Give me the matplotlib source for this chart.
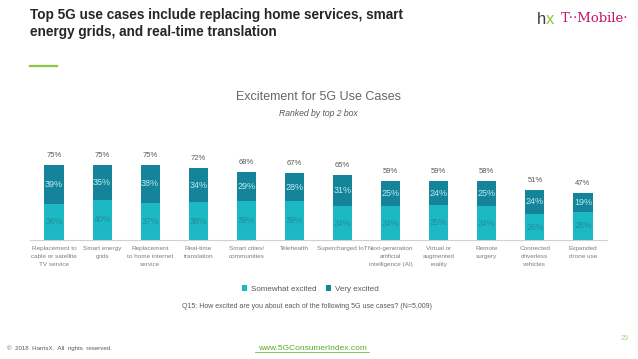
import matplotlib.pyplot as plt
import numpy as np

plt.rcParams['font.family'] = ['Liberation Sans', 'DejaVu Sans']

# data
categories = ['Replacement to\ncable or satellite\nTV service', 'Smart energy\ngrids',
              'Replacement\nto home internet\nservice', 'Real-time\ntranslation',
              'Smart cities/\ncommunities', 'Telehealth', 'Supercharged IoT',
              'Next-generation\nartificial\nintelligence (AI)', 'Virtual or\naugmented\nreality',
              'Remote\nsurgery', 'Connected\ndriverless\nvehicles', 'Expanded\ndrone use']
somewhat = [36, 40, 37, 38, 39, 39, 34, 34, 35, 34, 26, 28]
very = [39, 35, 38, 34, 29, 28, 31, 25, 24, 25, 24, 19]
totals = [75, 75, 75, 72, 68, 67, 65, 59, 59, 58, 51, 47]

light = '#1cb8c4'
dark = '#15849a'
gray = '#595959'

fig = plt.figure(figsize=(6.38, 3.59), dpi=100)
W, H = 638.0, 359.0

# axes placed so baseline sits at y=240px, spans x 30..607px
ax = fig.add_axes([30 / W, 1 - 240 / H, 577 / W, 100 / H])
x = np.arange(len(categories))
ax.bar(x, somewhat, width=0.4, color=light, label='Somewhat excited')
ax.bar(x, very, width=0.4, bottom=somewhat, color=dark, label='Very excited')
ax.set_xlim(-0.5, len(categories) - 0.5)
ax.set_ylim(0, 100)

for i in range(len(categories)):
    ax.text(x[i], somewhat[i] / 2, '%d%%' % somewhat[i], ha='center', va='center',
            fontsize=6.3, color='#1f8f9c')
    ax.text(x[i], somewhat[i] + very[i] / 2, '%d%%' % very[i], ha='center', va='center',
            fontsize=6.5, color='#b5eef3')
    ax.text(x[i], somewhat[i] + very[i] + 6, '%d%%' % totals[i], ha='center', va='bottom',
            fontsize=5.5, color=gray)

for s in ['top', 'right', 'left']:
    ax.spines[s].set_visible(False)
ax.spines['bottom'].set_color('#d0d0d0')
ax.spines['bottom'].set_linewidth(0.8)
ax.set_yticks([])
ax.set_xticks(x)
ax.set_xticklabels(categories, fontsize=4.6, color='#7f7f7f', linespacing=1.8)
ax.tick_params(axis='x', length=0, pad=4)

leg = ax.legend(loc='center', bbox_to_anchor=((310 - 30) / 577, -0.49), ncol=2, frameon=False,
                fontsize=5.8, handlelength=0.7, handleheight=0.7, columnspacing=1.2,
                handletextpad=0.4)
for t in leg.get_texts():
    t.set_color(gray)

# titles and decorations
fig.text(30 / W, 1 - 8 / H, 'Top 5G use cases include replacing home services, smart\n'
         'energy grids, and real-time translation', ha='left', va='top',
         fontsize=9.8, fontweight='bold', color='#262626', linespacing=1.3)
fig.add_artist(plt.Line2D([30 / W, 57 / W], [1 - 66 / H, 1 - 66 / H], color='#8dc63f', lw=1.6))
fig.text(537 / W, 1 - 19 / H, 'h', fontsize=12, color='#404040', va='center', ha='left')
fig.text(546 / W, 1 - 20 / H, 'x', fontsize=12, color='#8dc63f', va='center', ha='left')
fig.text(561 / W, 1 - 19 / H, 'T··Mobile·', fontsize=9.5, color='#c2136f', va='center',
         ha='left', family='DejaVu Serif')

fig.text(318 / W, 1 - 97 / H, 'Excitement for 5G Use Cases', ha='center', va='center',
         fontsize=9, color='#666666')
fig.text(318 / W, 1 - 114 / H, 'Ranked by top 2 box', ha='center', va='center',
         fontsize=6.2, color=gray, style='italic')
fig.text(307 / W, 1 - 306 / H, 'Q15: How excited are you about each of the following 5G use cases? (N=5,009)',
         ha='center', va='center', fontsize=5, color=gray)
fig.text(7 / W, 1 - 348 / H, '\u00a9  2018  HarrisX.  All  rights  reserved.', ha='left',
         va='center', fontsize=4.4, color=gray)
fig.text(312 / W, 1 - 348 / H, 'www.5GConsumerIndex.com', ha='center', va='center',
         fontsize=6, color='#5aaa2a')
fig.add_artist(plt.Line2D([255 / W, 369 / W], [1 - 352 / H, 1 - 352 / H], color='#5aaa2a', lw=0.5))
fig.text(625 / W, 1 - 339 / H, '29', ha='center', va='center', fontsize=5, color='#a9d18e')

fig.savefig('out.png', dpi=100)
